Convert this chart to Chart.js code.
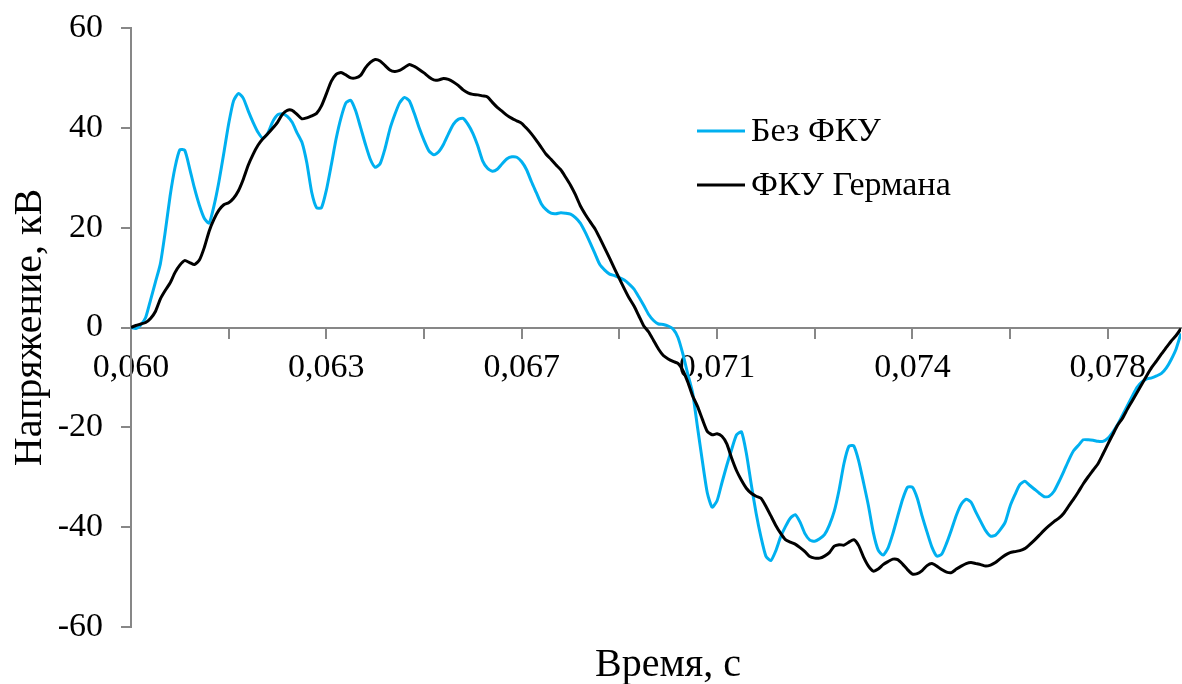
<!DOCTYPE html>
<html lang="ru">
<head>
<meta charset="UTF-8">
<title>Напряжение</title>
<script src="https://cdn.jsdelivr.net/npm/chart.js@4"></script>
<style>
  html, body { margin: 0; padding: 0; background: #fff; }
</style>
</head>
<body>
<canvas id="chart" width="1182" height="684"></canvas>
<script>
// sample grid: 0.060 s start, equal steps
const T0 = 0.060;
const DT = 0.0000875;

// Без ФКУ, кВ
const blueValues = [
  0, -0.2, 0.5, 2.0, 5.5, 9.1, 12.7, 19.1, 26.3, 32.0, 35.6, 35.5,
  31.9, 27.9, 24.5, 21.9, 20.9, 24.4, 29.2, 34.9, 40.8, 45.4, 46.9, 45.9,
  43.4, 41.1, 39.1, 37.9, 38.9, 41.2, 42.6, 42.8, 42.3, 41.1, 39.0, 37.1,
  33.0, 27.1, 24.0, 24.0, 27.5, 32.5, 37.8, 42.0, 45.0, 45.5, 43.4, 40.1,
  36.7, 33.7, 32.1, 32.8, 35.8, 39.7, 42.6, 45.0, 46.1, 45.4, 42.9, 40.0,
  37.5, 35.4, 34.6, 35.2, 36.7, 38.8, 40.7, 41.7, 41.9, 40.7, 38.9, 36.4,
  33.4, 31.9, 31.3, 31.7, 32.8, 33.8, 34.2, 34.1, 33.2, 31.6, 29.2, 27.0,
  24.8, 23.6, 22.9, 22.8, 23.0, 22.9, 22.7, 22.0, 20.9, 19.1, 17.0, 14.8,
  12.6, 11.5, 10.7, 10.4, 10.0, 9.5, 8.7, 7.7, 6.1, 4.4, 2.6, 1.4,
  0.7, 0.6, 0.3, -0.3, -2.0, -5.3, -9.3, -13.1, -20.0, -26.8, -33.1, -36.0,
  -34.7, -31.1, -27.6, -24.4, -21.5, -20.9, -25.2, -31.4, -37.2, -42.0, -45.8, -46.7,
  -44.8, -42.0, -39.9, -38.2, -37.5, -39.0, -41.3, -42.6, -42.8, -42.3, -41.5, -39.6,
  -36.8, -32.5, -27.2, -23.8, -23.7, -26.7, -31.1, -35.7, -41.1, -44.6, -45.6, -44.2,
  -41.3, -37.8, -34.4, -32.0, -32.0, -34.2, -37.8, -41.0, -44.0, -45.8, -45.4, -43.2,
  -40.5, -37.6, -35.4, -34.4, -35.0, -37.0, -38.9, -40.7, -41.8, -41.6, -40.5, -39.0,
  -35.8, -33.5, -31.5, -30.8, -31.6, -32.4, -33.2, -33.9, -33.8, -32.8, -30.9, -28.8,
  -26.6, -24.7, -23.6, -22.5, -22.5, -22.6, -22.8, -22.8, -22.2, -21.0, -19.5, -17.6,
  -15.7, -13.8, -12.0, -10.9, -10.3, -10.1, -9.7, -9.2, -8.1, -6.4, -4.3, -1.2
];

// ФКУ Германа, кВ
const blackValues = [
  0, 0.4, 0.7, 1.0, 1.8, 3.2, 5.7, 7.4, 8.9, 11.0, 12.5, 13.4,
  13.0, 12.6, 13.5, 16.0, 19.3, 21.7, 23.5, 24.6, 25.0, 25.9, 27.4, 29.7,
  32.5, 34.7, 36.5, 37.8, 38.8, 39.9, 41.1, 42.7, 43.5, 43.5, 42.7, 41.8,
  42.0, 42.4, 42.9, 44.4, 46.8, 49.3, 50.7, 51.1, 50.6, 50.0, 50.0, 50.5,
  52.0, 53.1, 53.7, 53.4, 52.5, 51.6, 51.3, 51.5, 52.1, 52.7, 52.3, 51.7,
  51.0, 50.2, 49.6, 49.6, 49.9, 49.7, 49.2, 48.5, 47.6, 47.0, 46.7, 46.6,
  46.4, 46.2, 45.1, 44.1, 43.3, 42.5, 41.9, 41.4, 40.9, 39.9, 38.8, 37.5,
  36.1, 34.7, 33.7, 32.6, 31.6, 30.1, 28.5, 26.6, 24.4, 22.7, 21.2, 19.8,
  17.9, 15.9, 13.9, 11.8, 9.8, 7.8, 5.9, 4.3, 2.3, 0.3, -0.9, -2.6,
  -4.3, -5.6, -6.3, -6.8, -7.2, -8.6, -10.9, -13.7, -15.8, -18.4, -20.8, -21.5,
  -21.3, -21.8, -23.3, -26.2, -28.7, -30.6, -32.2, -33.2, -33.8, -34.2, -35.8, -37.7,
  -39.6, -41.2, -42.5, -43.0, -43.4, -44.1, -44.9, -45.9, -46.2, -46.2, -45.8, -45.1,
  -43.8, -43.5, -43.6, -43.0, -42.5, -43.7, -46.0, -47.8, -48.8, -48.4, -47.5, -46.9,
  -46.4, -46.5, -47.4, -48.5, -49.4, -49.3, -48.7, -47.7, -47.3, -47.8, -48.5, -49.0,
  -49.1, -48.4, -47.8, -47.3, -47.1, -47.3, -47.5, -47.8, -47.6, -47.1, -46.3, -45.6,
  -45.1, -44.9, -44.7, -44.3, -43.5, -42.6, -41.6, -40.6, -39.7, -38.9, -38.2, -37.2,
  -35.8, -34.4, -32.9, -31.3, -29.9, -28.6, -27.3, -25.4, -23.4, -21.5, -19.6, -18.2,
  -16.4, -14.7, -13.0, -11.3, -9.6, -8.0, -6.7, -5.3, -4.0, -2.7, -1.6, -0.2
];

const xTicks = [0.060, 0.06175, 0.0635, 0.06525, 0.067, 0.06875, 0.0705, 0.07225, 0.074, 0.07575, 0.0775];
const xTickLabels = ['0,060', '', '0,063', '', '0,067', '', '0,071', '', '0,074', '', '0,078'];
const yTicks = [-60, -40, -20, 0, 20, 40, 60];

const seriesNames = ['Без ФКУ', 'ФКУ Германа'];
const seriesColors = ['#00B0F0', '#000000'];
const xTitle = 'Время, с';

const FONT = "'Liberation Serif', 'Times New Roman', serif";
const AXIS_GREY = '#878787';
Chart.defaults.font.family = FONT;
Chart.defaults.color = '#000';

const times = blueValues.map((_, i) => T0 + i * DT);
const toXY = vals => vals.map((v, i) => ({ x: times[i], y: v }));

// legend inside the plot + x title under it (the x axis itself sits at y = 0)
const overlay = {
  id: 'overlay',
  afterDraw(chart) {
    const { ctx, chartArea } = chart;
    const x0 = chartArea.left + 566;
    const y0 = chartArea.top + 103;
    ctx.save();
    ctx.font = '34px ' + FONT;
    ctx.textBaseline = 'middle';
    ctx.textAlign = 'left';
    chart.data.datasets.forEach((ds, i) => {
      const y = y0 + i * 54;
      ctx.strokeStyle = ds.borderColor;
      ctx.lineWidth = ds.borderWidth;
      ctx.beginPath();
      ctx.moveTo(x0, y);
      ctx.lineTo(x0 + 48, y);
      ctx.stroke();
      ctx.fillStyle = '#000';
      ctx.fillText(ds.label, x0 + 54, y + 1);
    });
    ctx.font = '40px ' + FONT;
    ctx.textAlign = 'center';
    ctx.fillText(xTitle, (chartArea.left + chartArea.right) / 2 + 12, chartArea.bottom + 38);
    ctx.restore();
  }
};

new Chart(document.getElementById('chart'), {
  type: 'line',
  data: {
    datasets: [
      { label: seriesNames[0], data: toXY(blueValues), borderColor: seriesColors[0], borderWidth: 3, order: 1 },
      { label: seriesNames[1], data: toXY(blackValues), borderColor: seriesColors[1], borderWidth: 3, order: 0 }
    ]
  },
  options: {
    responsive: false,
    animation: false,
    events: [],
    elements: { point: { radius: 0 }, line: { tension: 0.2, fill: false } },
    layout: { padding: { top: 28, right: 1, left: 0, bottom: 57 } },
    scales: {
      x: {
        type: 'linear',
        position: { y: 0 },
        min: T0,
        max: times[times.length - 1],
        afterBuildTicks: s => { s.ticks = xTicks.map(v => ({ value: v })); },
        ticks: {
          autoSkip: false,
          maxRotation: 0,
          padding: 10,
          font: { size: 34 },
          callback: (v, i) => xTickLabels[i]
        },
        grid: { drawOnChartArea: false, drawTicks: true, tickLength: 10, color: AXIS_GREY, lineWidth: 2 },
        border: { color: AXIS_GREY, width: 2 }
      },
      y: {
        min: -60,
        max: 60,
        afterBuildTicks: s => { s.ticks = yTicks.map(v => ({ value: v })); },
        afterFit: s => { s.width = 131; s.paddingTop = 0; s.paddingBottom = 0; },
        ticks: { padding: 18, font: { size: 34 }, callback: v => String(v) },
        grid: { drawOnChartArea: false, drawTicks: true, tickLength: 10, color: AXIS_GREY, lineWidth: 2 },
        border: { color: AXIS_GREY, width: 2 },
        title: { display: true, text: 'Напряжение, кВ', font: { size: 40 }, padding: { top: 6, bottom: 0 } }
      }
    },
    plugins: {
      legend: { display: false },
      tooltip: { enabled: false },
      title: { display: false }
    }
  },
  plugins: [overlay]
});
</script>
</body>
</html>
